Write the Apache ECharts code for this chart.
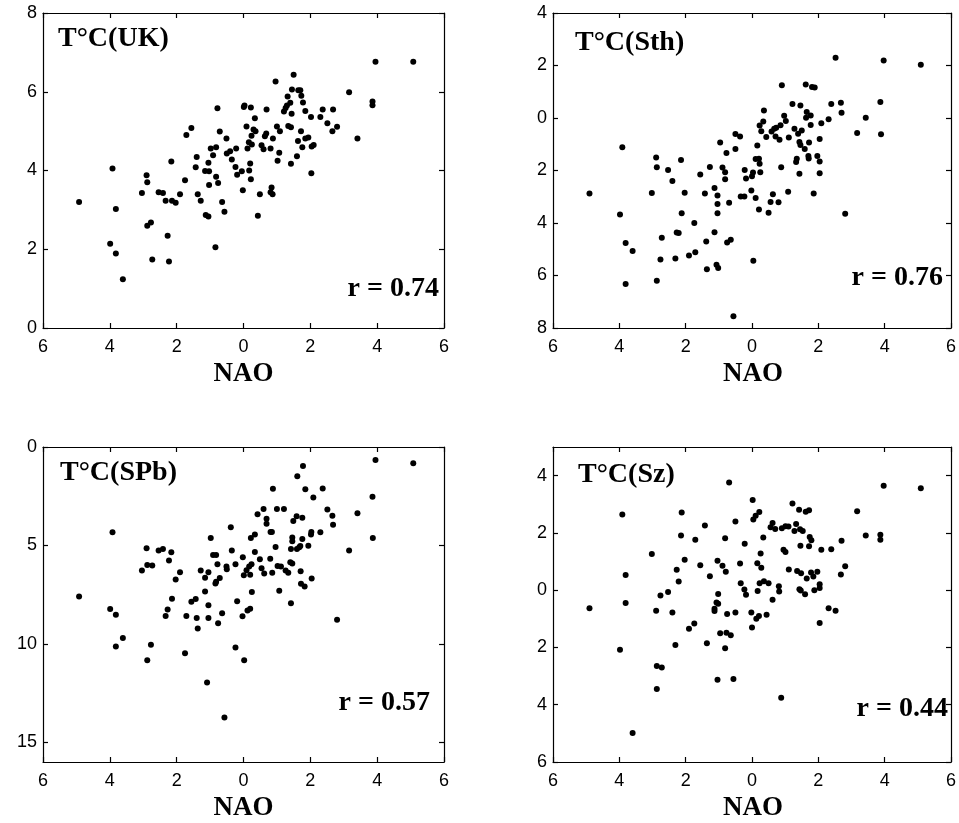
<!DOCTYPE html>
<html>
<head>
<meta charset="utf-8">
<script src="https://cdn.jsdelivr.net/npm/echarts@6/dist/echarts.min.js"></script>
<style>
  html, body { margin: 0; padding: 0; background: #fff; }
  #chart { width: 959px; height: 823px; }
</style>
</head>
<body>
<div id="chart"></div>
<script>
// tick values (labels are printed without the minus sign, as in the original figure)
var xTicks = [-6, -4, -2, 0, 2, 4, 6];
var ukTicks = [0, 2, 4, 6, 8];
var sthTicks = [-8, -6, -4, -2, 0, 2, 4];
var spbTicks = [-15, -10, -5, 0];
var szTicks = [-6, -4, -2, 0, 2, 4];

var panelNames = ["T°C(UK)", "T°C(Sth)", "T°C(SPb)", "T°C(Sz)"];
var rValues = ["r = 0.74", "r = 0.76", "r = 0.57", "r = 0.44"];

// [NAO, temperature]
var ukPoints = [
  [-4.92,3.20],[-3.92,4.05],[-3.82,3.02],[-3.99,2.14],[-3.82,1.89],[-3.61,1.24],[-3.04,3.43],[-2.90,3.88],
  [-2.88,3.70],[-2.88,2.60],[-2.77,2.68],[-2.73,1.74],[-2.54,3.45],[-2.41,3.43],[-2.33,3.23],[-2.27,2.34],
  [-2.23,1.69],[-2.16,4.23],[-2.14,3.23],[-2.03,3.18],[-1.90,3.40],[-1.75,3.75],[-1.71,4.90],[-1.56,5.08],
  [-1.40,4.34],[-1.43,4.08],[-1.37,3.40],[-1.28,3.23],[-1.15,3.99],[-1.13,2.87],[-1.05,4.20],[-1.05,2.83],
  [-1.03,3.98],[-1.03,3.63],[-0.98,4.56],[-0.91,4.39],[-0.82,4.59],[-0.84,2.05],[-0.82,3.84],[-0.78,5.58],
  [-0.76,3.68],[-0.71,4.99],[-0.64,3.20],[-0.57,2.95],[-0.51,4.81],[-0.50,4.43],[-0.40,4.49],[-0.35,4.28],
  [-0.24,4.09],[-0.22,4.56],[-0.19,3.89],[-0.05,3.98],[-0.02,3.50],[0.01,5.61],[0.03,5.65],[0.09,5.12],
  [0.12,4.56],[0.16,4.72],[0.17,4.00],[0.20,4.18],[0.22,5.60],[0.22,3.78],[0.24,4.88],[0.25,4.66],
  [0.30,5.04],[0.34,5.33],[0.36,5.00],[0.43,2.85],[0.49,3.40],[0.54,4.64],[0.60,4.54],[0.64,4.87],
  [0.68,4.94],[0.69,5.55],[0.81,4.56],[0.84,3.57],[0.81,3.45],[0.87,3.40],[0.88,4.81],[0.96,6.26],
  [1.00,5.12],[1.02,4.25],[1.07,4.45],[1.09,5.00],[1.21,5.50],[1.26,5.59],[1.30,5.65],[1.32,5.88],
  [1.34,5.13],[1.40,5.72],[1.42,5.10],[1.42,4.17],[1.44,5.44],[1.45,6.06],[1.50,6.43],[1.60,4.36],
  [1.63,4.75],[1.64,6.04],[1.70,6.04],[1.72,5.00],[1.73,5.90],[1.76,4.59],[1.78,5.73],[1.85,5.51],
  [1.85,4.81],[1.94,4.84],[2.02,5.36],[2.03,3.93],[2.04,4.61],[2.10,4.65],[2.30,5.36],[2.37,5.55],
  [2.51,5.20],[2.66,5.00],[2.68,5.55],[2.80,5.11],[3.16,5.99],[3.41,4.81],[3.86,5.75],[3.86,5.66],
  [3.95,6.76],[5.08,6.76]
];

var sthPoints = [
  [-4.90,-2.88],[-3.98,-3.68],[-3.91,-1.11],[-3.81,-4.76],[-3.81,-6.32],[-3.60,-5.07],[-3.02,-2.86],[-2.89,-1.50],
  [-2.87,-1.88],[-2.87,-6.20],[-2.76,-5.39],[-2.72,-4.56],[-2.53,-1.98],[-2.40,-2.40],[-2.31,-5.35],[-2.27,-4.36],
  [-2.21,-4.38],[-2.14,-1.60],[-2.12,-3.63],[-2.03,-2.85],[-1.90,-5.24],[-1.74,-4.00],[-1.71,-5.11],[-1.56,-2.15],
  [-1.42,-2.88],[-1.38,-4.70],[-1.36,-5.76],[-1.27,-1.87],[-1.13,-2.67],[-1.13,-4.35],[-1.07,-5.59],[-1.02,-5.71],
  [-1.04,-2.95],[-1.04,-3.28],[-1.04,-3.63],[-0.96,-0.93],[-0.89,-1.89],[-0.81,-2.07],[-0.81,-2.33],[-0.77,-1.33],
  [-0.75,-4.74],[-0.69,-3.23],[-0.64,-4.64],[-0.56,-7.55],[-0.50,-0.61],[-0.50,-1.18],[-0.36,-0.70],[-0.34,-2.99],
  [-0.23,-2.99],[-0.22,-1.98],[-0.18,-2.30],[-0.02,-2.76],[0.00,-2.22],[0.03,-2.08],[0.04,-5.44],[0.11,-3.05],
  [0.16,-1.05],[0.11,-1.56],[0.21,-3.49],[0.21,-1.55],[0.23,-1.74],[0.23,-0.29],[0.25,-2.07],[0.28,-0.50],
  [0.34,-0.13],[0.36,0.29],[0.43,-0.72],[0.50,-3.61],[0.56,-3.20],[0.59,-0.51],[0.63,-2.90],[0.67,-0.41],
  [0.71,-0.70],[0.73,-0.37],[0.80,-3.21],[0.83,-0.83],[0.86,-0.28],[0.88,-1.88],[0.90,1.25],[0.97,0.09],
  [1.02,-0.11],[1.09,-2.81],[1.11,-0.74],[1.22,0.53],[1.28,-0.41],[1.33,-1.68],[1.35,-1.55],[1.39,-0.60],
  [1.43,-0.91],[1.43,-2.12],[1.46,0.48],[1.46,-1.03],[1.50,-0.48],[1.59,-1.18],[1.62,1.28],[1.63,0.01],
  [1.65,0.23],[1.70,-1.45],[1.71,-1.54],[1.72,-0.93],[1.77,0.10],[1.77,-0.27],[1.81,1.18],[1.86,-2.88],
  [1.89,1.16],[1.97,-1.45],[2.04,-0.80],[2.04,-1.66],[2.04,-2.10],[2.09,-0.20],[2.31,-0.05],[2.39,0.53],
  [2.52,2.30],[2.68,0.58],[2.70,0.20],[2.81,-3.65],[3.17,-0.57],[3.43,0.01],[3.87,0.61],[3.89,-0.62],
  [3.97,2.19],[5.09,2.03]
];

var spbPoints = [
  [-4.92,-7.59],[-3.99,-8.23],[-3.92,-4.33],[-3.82,-8.52],[-3.82,-10.13],[-3.61,-9.70],[-3.04,-6.27],[-2.90,-5.14],
  [-2.88,-5.99],[-2.88,-10.83],[-2.77,-10.05],[-2.73,-6.02],[-2.54,-5.26],[-2.41,-5.18],[-2.33,-8.58],[-2.27,-8.25],
  [-2.23,-5.77],[-2.16,-5.35],[-2.14,-7.71],[-2.03,-6.73],[-1.90,-6.36],[-1.75,-10.47],[-1.71,-8.58],[-1.56,-7.86],
  [-1.43,-7.72],[-1.40,-8.68],[-1.37,-9.22],[-1.28,-6.27],[-1.15,-6.64],[-1.15,-7.34],[-1.05,-8.04],[-1.05,-6.36],
  [-1.05,-8.68],[-1.09,-11.96],[-0.98,-4.62],[-0.91,-5.48],[-0.82,-5.48],[-0.84,-6.93],[-0.82,-6.85],[-0.78,-5.95],
  [-0.76,-8.95],[-0.71,-6.66],[-0.64,-8.45],[-0.57,-13.74],[-0.51,-6.07],[-0.50,-6.21],[-0.38,-4.08],[-0.35,-5.26],
  [-0.24,-5.95],[-0.24,-10.19],[-0.19,-7.84],[-0.02,-5.60],[-0.03,-8.60],[0.02,-10.83],[0.01,-6.51],[0.09,-6.26],
  [0.12,-8.31],[0.17,-6.07],[0.20,-8.21],[0.20,-6.49],[0.22,-4.62],[0.25,-7.37],[0.24,-5.95],[0.34,-4.44],
  [0.34,-5.33],[0.42,-3.41],[0.49,-5.70],[0.54,-6.16],[0.60,-3.15],[0.62,-6.42],[0.69,-3.64],[0.69,-3.90],
  [0.80,-5.67],[0.81,-4.32],[0.85,-4.32],[0.86,-6.39],[0.88,-2.12],[0.96,-5.08],[1.00,-3.15],[1.02,-6.04],
  [1.07,-7.30],[1.12,-6.07],[1.21,-3.15],[1.26,-6.27],[1.34,-6.39],[1.40,-5.85],[1.42,-7.94],[1.42,-5.18],
  [1.46,-5.92],[1.46,-4.60],[1.46,-4.79],[1.49,-3.76],[1.59,-3.52],[1.60,-5.18],[1.61,-1.48],[1.67,-5.09],
  [1.70,-5.03],[1.71,-6.31],[1.72,-6.95],[1.76,-3.59],[1.76,-4.67],[1.78,-0.96],[1.83,-7.08],[1.85,-2.14],
  [1.94,-5.01],[2.02,-4.44],[2.03,-4.32],[2.04,-6.68],[2.09,-2.56],[2.30,-4.33],[2.37,-2.11],[2.51,-3.17],
  [2.66,-3.49],[2.68,-3.95],[2.80,-8.77],[3.16,-5.26],[3.41,-3.37],[3.86,-2.53],[3.87,-4.62],[3.95,-0.66],
  [5.08,-0.83]
];

var szPoints = [
  [-4.90,-0.63],[-3.98,-2.08],[-3.91,2.64],[-3.81,0.53],[-3.81,-0.45],[-3.60,-4.99],[-3.02,1.26],[-2.89,-0.72],
  [-2.87,-2.65],[-2.87,-3.45],[-2.76,-0.19],[-2.72,-2.70],[-2.53,-0.06],[-2.40,-0.78],[-2.31,-1.91],[-2.27,0.71],
  [-2.21,0.30],[-2.14,1.91],[-2.12,2.71],[-2.03,1.06],[-1.90,-1.35],[-1.74,-1.16],[-1.71,1.76],[-1.56,0.87],
  [-1.42,2.26],[-1.36,-1.85],[-1.27,0.49],[-1.13,-0.65],[-1.13,-0.73],[-1.07,-0.43],[-1.04,-3.13],[-1.04,1.03],
  [-1.02,-0.13],[-1.02,-0.47],[-0.96,-1.50],[-0.89,0.85],[-0.81,1.81],[-0.81,-2.03],[-0.79,0.64],[-0.77,-1.49],
  [-0.75,-0.83],[-0.69,3.76],[-0.64,-1.57],[-0.56,-3.10],[-0.50,2.40],[-0.50,-0.78],[-0.36,0.93],[-0.34,0.24],
  [-0.23,0.02],[-0.22,1.62],[-0.18,-0.16],[-0.02,-0.78],[0.00,-1.30],[0.02,3.15],[0.04,2.47],[0.11,2.60],
  [0.13,-1.00],[0.16,0.94],[0.17,-0.03],[0.21,-0.90],[0.22,2.73],[0.23,0.24],[0.26,1.28],[0.28,0.78],
  [0.34,1.84],[0.36,0.31],[0.44,-0.86],[0.50,0.24],[0.56,2.20],[0.62,2.35],[0.62,-0.33],[0.70,2.14],
  [0.81,0.14],[0.82,-0.05],[0.88,-3.76],[0.90,2.16],[0.95,1.41],[1.01,2.23],[1.01,1.33],[1.10,2.22],
  [1.11,0.72],[1.22,3.03],[1.28,2.07],[1.33,2.31],[1.36,0.67],[1.42,2.81],[1.43,0.03],[1.45,2.13],
  [1.46,1.55],[1.47,-0.01],[1.48,0.59],[1.53,2.07],[1.60,-0.14],[1.62,2.74],[1.65,0.41],[1.72,2.79],
  [1.72,1.53],[1.74,1.86],[1.78,0.62],[1.79,1.74],[1.85,0.48],[1.88,0.00],[1.97,0.64],[2.04,0.21],
  [2.04,0.08],[2.04,-1.15],[2.09,1.41],[2.31,-0.63],[2.39,1.43],[2.52,-0.72],[2.68,0.55],[2.70,1.73],
  [2.81,0.84],[3.17,2.76],[3.43,1.91],[3.87,1.94],[3.87,1.76],[3.97,3.65],[5.09,3.56]
];

var chartDom = document.getElementById("chart");
var myChart = echarts.init(chartDom, null, { renderer: "canvas" });

var panels = [
  { grid: { left: 43, top: 13, width: 401, height: 315 }, yMin: 0, yMax: 8, yTicks: ukTicks, pts: ukPoints,
    title: [58, 39], r: [439, 289] },
  { grid: { left: 553, top: 13, width: 400, height: 315 }, yMin: -8, yMax: 4, yTicks: sthTicks, pts: sthPoints,
    title: [575, 43], r: [943, 278] },
  { grid: { left: 43, top: 447, width: 401, height: 315 }, yMin: -16, yMax: 0, yTicks: spbTicks, pts: spbPoints,
    title: [60, 473], r: [430, 703] },
  { grid: { left: 553, top: 447, width: 400, height: 315 }, yMin: -6, yMax: 5, yTicks: szTicks, pts: szPoints,
    title: [578, 475], r: [948, 709] },
];

function absLabel(v) {
  return String(Math.abs(v));
}

var grids = [], xAxes = [], yAxes = [], series = [], graphics = [];
var lineStyle = { color: "#000", width: 1.2 };
var labelFont = { color: "#000", fontFamily: "Liberation Sans", fontSize: 18 };

panels.forEach(function (p, i) {
  grids.push(p.grid);
  // bottom + top x axes
  ["bottom", "top"].forEach(function (pos) {
    xAxes.push({
      type: "value", gridIndex: i, position: pos, min: -6, max: 6,
      axisLine: { show: true, onZero: false, lineStyle: lineStyle },
      axisTick: { show: true, inside: true, length: 5, lineStyle: lineStyle, customValues: xTicks },
      axisLabel: Object.assign({ show: pos === "bottom", margin: 10, formatter: absLabel, customValues: xTicks }, labelFont),
      splitLine: { show: false },
    });
  });
  // left + right y axes
  ["left", "right"].forEach(function (pos) {
    yAxes.push({
      type: "value", gridIndex: i, position: pos, min: p.yMin, max: p.yMax,
      axisLine: { show: true, onZero: false, lineStyle: lineStyle },
      axisTick: { show: true, inside: true, length: 5, lineStyle: lineStyle, customValues: p.yTicks },
      axisLabel: Object.assign({ show: pos === "left", margin: 6, formatter: absLabel, customValues: p.yTicks }, labelFont),
      splitLine: { show: false },
    });
  });
  series.push({
    type: "scatter",
    xAxisIndex: 2 * i,
    yAxisIndex: 2 * i,
    data: p.pts,
    symbol: "circle",
    symbolSize: 6,
    itemStyle: { color: "#000", opacity: 1 },
    silent: true,
  });
  graphics.push({
    type: "text", x: p.title[0], y: p.title[1],
    style: { text: panelNames[i], font: "bold 28px 'Liberation Serif'", fill: "#000",
      textAlign: "left", textVerticalAlign: "middle" },
  });
  graphics.push({
    type: "text", x: p.r[0], y: p.r[1],
    style: { text: rValues[i], font: "bold 28px 'Liberation Serif'", fill: "#000",
      textAlign: "right", textVerticalAlign: "middle" },
  });
  graphics.push({
    type: "text", x: p.grid.left + p.grid.width / 2, y: p.grid.top + p.grid.height + 46,
    style: { text: "NAO", font: "bold 27px 'Liberation Serif'", fill: "#000",
      textAlign: "center", textVerticalAlign: "middle" },
  });
});

var option = {
  backgroundColor: "#fff",
  animation: false,
  grid: grids,
  xAxis: xAxes,
  yAxis: yAxes,
  series: series,
  graphic: graphics,
};

option && myChart.setOption(option);
</script>
</body>
</html>
